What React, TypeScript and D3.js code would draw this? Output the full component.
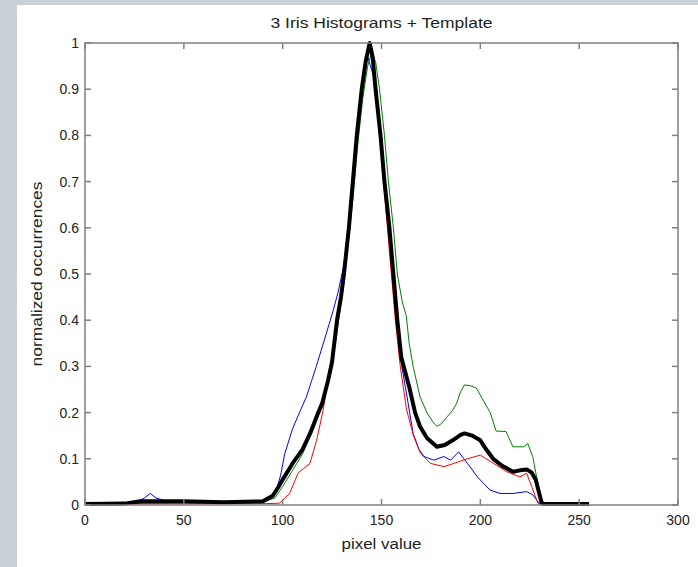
import React, { useEffect, useRef } from "react";
import * as d3 from "d3";

// [pixel value, normalized occurrences]
const blueHist: [number, number][] = [
  [0, 0.002], [25, 0.004], [30, 0.015], [33, 0.025], [36, 0.015], [40, 0.01], [50, 0.008],
  [88, 0.006], [93, 0.015], [97, 0.035], [99, 0.065], [101, 0.11], [105, 0.165], [108.5, 0.2],
  [112, 0.234], [117, 0.3], [122, 0.37], [125.5, 0.42], [128, 0.46], [131, 0.52], [133.5, 0.6],
  [135.5, 0.7], [137.5, 0.8], [139.5, 0.88], [141.5, 0.95], [143, 0.97], [145.5, 0.935],
  [147.5, 0.9], [149.5, 0.8], [151.5, 0.7], [153.5, 0.6], [155.5, 0.5], [157.5, 0.4],
  [159.5, 0.32], [162.7, 0.24], [166, 0.155], [169, 0.12], [171.5, 0.105], [176.5, 0.097],
  [181.5, 0.105], [185, 0.097], [189, 0.115], [193.5, 0.09], [198.5, 0.061], [202, 0.045],
  [205, 0.032], [210, 0.025], [216.5, 0.025], [223.5, 0.029], [226.5, 0.022], [229, 0.008],
  [230, 0.002], [255, 0.002],
];

const redHist: [number, number][] = [
  [0, 0.002], [92, 0.003], [98.5, 0.004], [103.5, 0.025], [107.8, 0.069], [113.8, 0.09],
  [117.2, 0.14], [120.5, 0.206], [124, 0.3], [126.5, 0.37], [128.5, 0.43], [131, 0.5],
  [133.5, 0.6], [135.5, 0.7], [137.5, 0.8], [140, 0.9], [142, 0.96], [143.5, 1.0], [145, 0.97],
  [147, 0.9], [149, 0.8], [151, 0.7], [153, 0.6], [155, 0.5], [157, 0.4], [159.5, 0.3],
  [162.7, 0.206], [166.3, 0.148], [169.7, 0.112], [174.8, 0.09], [181.6, 0.083], [186.6, 0.09],
  [193.4, 0.1], [200, 0.108], [206.7, 0.09], [213.4, 0.072], [220, 0.061], [223.4, 0.069],
  [226, 0.04], [229, 0.005], [230, 0.002], [255, 0.002],
];

const greenHist: [number, number][] = [
  [0, 0.002], [90, 0.006], [96, 0.015], [100, 0.04], [105, 0.075], [110, 0.11], [115, 0.16],
  [120, 0.22], [124, 0.28], [127, 0.36], [129, 0.42], [131, 0.48], [133, 0.56], [135.5, 0.66],
  [138, 0.78], [140.5, 0.88], [143, 0.95], [145, 0.98], [147, 0.96], [149, 0.9], [151.5, 0.8],
  [153.5, 0.7], [156, 0.6], [158, 0.5], [160.5, 0.44], [162.5, 0.41], [164, 0.35], [166, 0.3],
  [169.5, 0.234], [173, 0.2], [176, 0.18], [178, 0.17], [180, 0.175], [183, 0.19], [186, 0.205],
  [188, 0.22], [190, 0.245], [192, 0.26], [195, 0.258], [198, 0.253], [201, 0.23], [205, 0.2],
  [208, 0.16], [213, 0.159], [216.5, 0.126], [222, 0.126], [224, 0.133], [226.5, 0.105],
  [228.5, 0.06], [231, 0.003], [255, 0.002],
];

const template: [number, number][] = [
  [0, 0.002], [20, 0.003], [28, 0.008], [50, 0.008], [70, 0.006], [90, 0.008], [95, 0.02],
  [98, 0.04], [100, 0.055], [105, 0.09], [110, 0.12], [114, 0.156], [118, 0.2], [120, 0.22],
  [123, 0.27], [125, 0.31], [127.5, 0.4], [129.5, 0.45], [131, 0.5], [133.5, 0.6], [135.5, 0.7],
  [137.5, 0.8], [140, 0.9], [142, 0.96], [144, 1.0], [145.5, 0.97], [147, 0.9], [149.5, 0.8],
  [151.5, 0.7], [154, 0.6], [156, 0.5], [158, 0.4], [160, 0.32], [164, 0.256], [167, 0.2],
  [169.5, 0.17], [173, 0.145], [178, 0.126], [182, 0.13], [186, 0.14], [190, 0.152],
  [192, 0.155], [196, 0.15], [200, 0.14], [203, 0.12], [206.5, 0.1], [211, 0.085],
  [216.5, 0.072], [220, 0.075], [223.5, 0.077], [226, 0.07], [228, 0.055], [231, 0.005],
  [232, 0.002], [255, 0.002],
];

const xTicks = [0, 50, 100, 150, 200, 250, 300];
const yTicks = [0, 0.1, 0.2, 0.3, 0.4, 0.5, 0.6, 0.7, 0.8, 0.9, 1];

const titleText = "3 Iris Histograms + Template";
const xLabelText = "pixel value";
const yLabelText = "normalized occurrences";

const W = 698;
const H = 567;
const margin = { left: 85, right: 20, top: 43, bottom: 62 };
const FONT = "'Liberation Sans', Arial, sans-serif";
const AXIS = "#808080";

export default function App() {
  const ref = useRef<SVGSVGElement>(null);

  useEffect(() => {
    const svg = d3.select(ref.current);
    svg.selectAll("*").remove();

    const x = d3.scaleLinear().domain([0, 300]).range([margin.left, W - margin.right]);
    const y = d3.scaleLinear().domain([0, 1]).range([H - margin.bottom, margin.top]);

    // figure background: grey strips at top and left, white elsewhere
    svg.append("rect").attr("width", W).attr("height", H).attr("fill", "#c9d0d6");
    svg.append("rect").attr("x", 17).attr("y", 5).attr("width", W - 17).attr("height", H - 5).attr("fill", "#fff");

    const g = svg.append("g");

    const line = d3
      .line<[number, number]>()
      .x(d => x(d[0]))
      .y(d => y(d[1]));

    const series = [
      { data: blueHist, color: "#0000ff", w: 1 },
      { data: greenHist, color: "#008000", w: 1 },
      { data: redHist, color: "#ff0000", w: 1 },
      { data: template, color: "#000", w: 4 },
    ];
    series.forEach(s => {
      g.append("path")
        .datum(s.data)
        .attr("fill", "none")
        .attr("stroke", s.color)
        .attr("stroke-width", s.w)
        .attr("stroke-linejoin", "round")
        .attr("d", line);
    });

    // box
    const x0 = x(0), x1 = x(300), y0 = y(0), y1 = y(1);
    g.append("rect")
      .attr("x", x0).attr("y", y1)
      .attr("width", x1 - x0).attr("height", y0 - y1)
      .attr("fill", "none").attr("stroke", AXIS).attr("stroke-width", 1.5);

    const tl = 6;
    xTicks.forEach(t => {
      g.append("line").attr("x1", x(t)).attr("x2", x(t)).attr("y1", y0).attr("y2", y0 - tl)
        .attr("stroke", AXIS).attr("stroke-width", 1.5);
      g.append("line").attr("x1", x(t)).attr("x2", x(t)).attr("y1", y1).attr("y2", y1 + tl)
        .attr("stroke", AXIS).attr("stroke-width", 1.5);
      g.append("text").attr("x", x(t)).attr("y", y0 + 20)
        .attr("text-anchor", "middle").attr("font-family", FONT).attr("font-size", 14)
        .attr("fill", "#222").text(String(t));
    });
    yTicks.forEach(t => {
      g.append("line").attr("x1", x0).attr("x2", x0 + tl).attr("y1", y(t)).attr("y2", y(t))
        .attr("stroke", AXIS).attr("stroke-width", 1.5);
      g.append("line").attr("x1", x1).attr("x2", x1 - tl).attr("y1", y(t)).attr("y2", y(t))
        .attr("stroke", AXIS).attr("stroke-width", 1.5);
      g.append("text").attr("x", x0 - 6).attr("y", y(t) + 5)
        .attr("text-anchor", "end").attr("font-family", FONT).attr("font-size", 14)
        .attr("fill", "#222").text(String(t));
    });

    svg.append("text")
      .attr("x", (x0 + x1) / 2).attr("y", 28)
      .attr("text-anchor", "middle").attr("font-family", FONT).attr("font-size", 14)
      .attr("textLength", 222).attr("lengthAdjust", "spacingAndGlyphs")
      .attr("fill", "#222").text(titleText);

    svg.append("text")
      .attr("x", (x0 + x1) / 2).attr("y", H - 18)
      .attr("text-anchor", "middle").attr("font-family", FONT).attr("font-size", 14)
      .attr("textLength", 80).attr("lengthAdjust", "spacingAndGlyphs")
      .attr("fill", "#222").text(xLabelText);

    svg.append("text")
      .attr("transform", `translate(42,${(y0 + y1) / 2}) rotate(-90)`)
      .attr("text-anchor", "middle").attr("font-family", FONT).attr("font-size", 14)
      .attr("textLength", 185).attr("lengthAdjust", "spacingAndGlyphs")
      .attr("fill", "#222").text(yLabelText);
  }, []);

  return (
    <svg
      ref={ref}
      width={W}
      height={H}
      style={{ position: "absolute", left: 0, top: 0, display: "block" }}
    />
  );
}
